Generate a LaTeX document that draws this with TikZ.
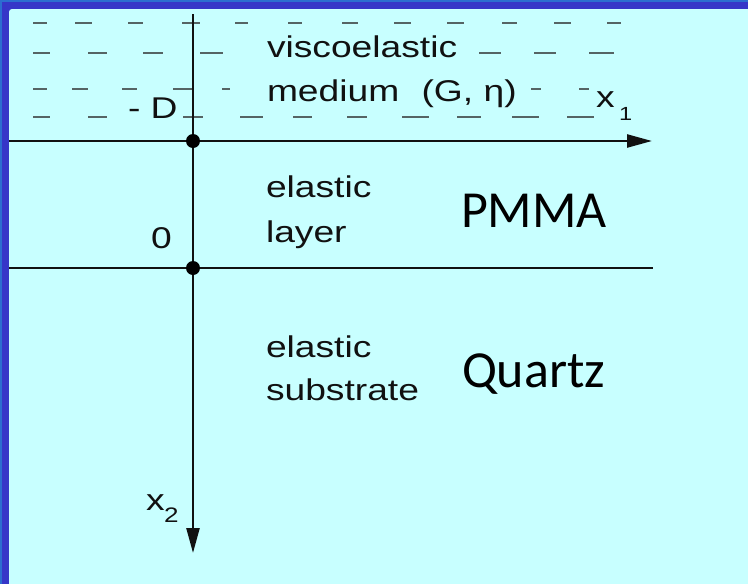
\documentclass[tikz,border=0pt]{standalone}
\usepackage{graphicx}
\usepackage{fontspec}
\setmainfont{Liberation Sans}
\newfontfamily\calfont{Carlito}
\usetikzlibrary{arrows.meta}
\definecolor{bgcyan}{HTML}{C8FFFF}
\definecolor{frameout}{HTML}{2C6DD0}
\definecolor{framein}{HTML}{3636C8}
\definecolor{inkcol}{HTML}{111111}
\definecolor{dashcol}{HTML}{556464}
\newcommand{\stretchtxt}[1]{\scalebox{1.24}[1]{#1}}
\tikzset{
  axisline/.style={draw=inkcol, line width=2.4pt},
  arrowline/.style={axisline, -{Triangle[length=25pt,width=13pt]}},
  dashseg/.style={draw=dashcol, line width=1.4pt},
  lbl/.style={anchor=base west, inner sep=0pt, outer sep=0pt, text=inkcol,
              font=\fontsize{30}{34}\selectfont},
  bigl/.style={anchor=base west, inner sep=0pt, outer sep=0pt, text=black,
              font=\calfont\fontsize{52}{60}\selectfont},
  dotnode/.style={circle, fill=black, inner sep=0pt, minimum size=14pt}
}
\begin{document}
\begin{tikzpicture}[x=1pt,y=-1pt]
\useasboundingbox (0,0) rectangle (748,584);
% frame and background
\fill[frameout] (0,0) rectangle (748,584);
\fill[framein] (2,2) rectangle (748,584);
\fill[bgcyan, rounded corners=3pt] (9,9) rectangle (760,600);
% dashed medium lines
\foreach \a/\b in {33/47,75/92,128/143,182/200,235/248,288/302,342/358,394/411,447/464,502/517,554/571,607/621}
  \draw[dashseg] (\a,23) -- (\b,23);
\foreach \a/\b in {33/50,88/107,143/163,200/223,479/501,534/556,589/614}
  \draw[dashseg] (\a,53) -- (\b,53);
\foreach \a/\b in {33/47,72/88,122/137,173/193,222/230,531/541,579/589}
  \draw[dashseg] (\a,89) -- (\b,89);
\foreach \a/\b in {33/50,88/107,183/203,240/263,293/312,347/367,402/429,457/481,512/539,567/594}
  \draw[dashseg] (\a,117) -- (\b,117);
% axes
\coordinate (ytop) at (193,14);
\coordinate (ybot) at (193,553);
\coordinate (l1L) at (9,141);
\coordinate (l1R) at (652,141);
\coordinate (l2L) at (9,268);
\coordinate (l2R) at (653,268);
\draw[arrowline] (l1L) -- (l1R);
\draw[axisline] (l2L) -- (l2R);
\draw[arrowline] (ytop) -- (ybot);
\node[dotnode] (o1) at (193,141) {};
\node[dotnode] (o2) at (193,268) {};
% labels
\node[lbl] (visc) at (267,57) {\stretchtxt{viscoelastic}};
\node[lbl] (med) at (267,101) {\stretchtxt{medium\hspace{0.6em}(G, η)}};
\node[lbl] (xone) at (596,107) {\stretchtxt{x}};
\node[lbl, font=\fontsize{19}{21}\selectfont] (xonesub) at (619,120) {\stretchtxt{1}};
\node[lbl] (minusD) at (128,118) {\stretchtxt{- D}};
\node[lbl] (zero) at (151,248) {\stretchtxt{0}};
\node[lbl] (el1) at (266,197) {\stretchtxt{elastic}};
\node[lbl] (lay) at (266,242) {\stretchtxt{layer}};
\node[lbl] (el2) at (266,357) {\stretchtxt{elastic}};
\node[lbl] (sub) at (266,400) {\stretchtxt{substrate}};
\node[lbl] (xtwo) at (146,510) {\stretchtxt{x}};
\node[lbl, font=\fontsize{21}{23}\selectfont] (xtwosub) at (164,522) {\stretchtxt{2}};
\node[bigl] (pmma) at (461,227) {PMMA};
\node[bigl] (quartz) at (462,387) {Quartz};
\end{tikzpicture}
\end{document}
